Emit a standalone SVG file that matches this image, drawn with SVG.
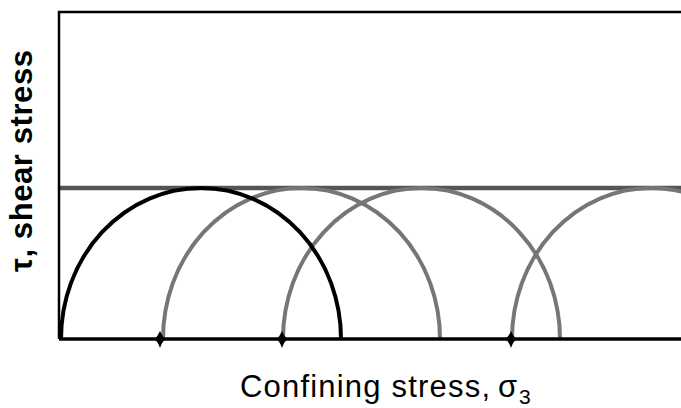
<svg xmlns="http://www.w3.org/2000/svg" width="681" height="408" viewBox="0 0 681 408">
  <style>
    .axis { stroke: #000; stroke-width: 2.5; fill: none; }
    .base { stroke: #000; stroke-width: 3.5; fill: none; }
    .env { stroke: #555; stroke-width: 4.5; fill: none; }
    .gray { stroke: #767676; stroke-width: 4; fill: none; }
    .black { stroke: #000; stroke-width: 4; fill: none; }
    .tick { fill: #000; stroke: none; }
    .lbl { font-family: "Liberation Sans", Arial, sans-serif; fill: #000; }
  </style>
  <defs>
    <path id="tk" d="M0,-8 Q2,-3 5.5,0 Q2,3 0,9 Q-2,3 -5.5,0 Q-2,-3 0,-8 Z"/>
  </defs>
  <rect width="681" height="408" fill="#fff"/>
  <g id="envelope">
    <line class="env" x1="59" y1="188" x2="681" y2="188"/>
  </g>
  <g id="circles">
    <path id="c2" class="gray" d="M163,339 A138.5,151 0 0 1 440,339"/>
    <path id="c3" class="gray" d="M283,339 A138.5,151 0 0 1 560,339"/>
    <path id="c4" class="gray" d="M512,339 A139,151 0 0 1 790,339"/>
    <path id="c1" class="black" d="M61,339 A140,151 0 0 1 341,339"/>
  </g>
  <g id="axes">
    <polyline class="axis" points="59,339 59,12 681,12"/>
    <line class="base" x1="59" y1="339" x2="681" y2="339"/>
  </g>
  <g id="ticks">
    <use href="#tk" class="tick" x="160" y="339"/>
    <use href="#tk" class="tick" x="282" y="339"/>
    <use href="#tk" class="tick" x="511" y="339"/>
  </g>
  <g id="xlabel" class="lbl">
    <text x="240" y="397" font-size="31" textLength="250" lengthAdjust="spacing">Confining stress,</text>
    <text x="498" y="397" font-size="31">σ</text>
    <text x="519" y="404" font-size="21">3</text>
  </g>
  <g id="ylabel" class="lbl">
    <text transform="translate(32,161) rotate(-90)" text-anchor="middle" font-size="31" font-weight="bold" textLength="222" lengthAdjust="spacing">τ, shear stress</text>
  </g>
</svg>
